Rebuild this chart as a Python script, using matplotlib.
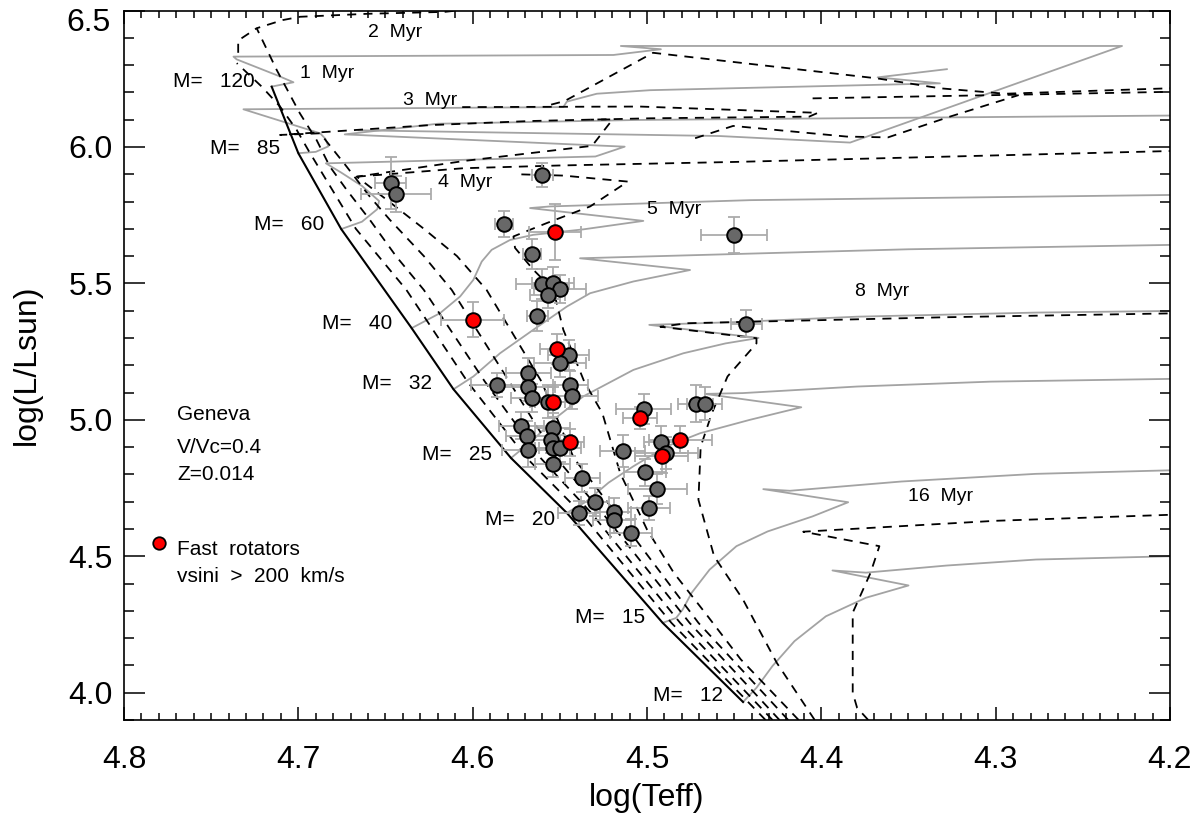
import matplotlib
matplotlib.use("Agg")
import matplotlib.pyplot as plt
from matplotlib.ticker import MultipleLocator

plt.rcParams.update({
    "font.family": ["Liberation Sans", "DejaVu Sans"],
    "axes.linewidth": 1.2,
})

# --- observed stars: logTeff, logL, errors -------------------------------
GRAY_X = [4.647, 4.644, 4.560, 4.582, 4.566, 4.560, 4.554, 4.550, 4.557, 4.563,
          4.545, 4.550, 4.568, 4.586, 4.568, 4.566, 4.557, 4.544, 4.543, 4.572,
          4.569, 4.568, 4.554, 4.555, 4.554, 4.550, 4.554, 4.537, 4.530, 4.539,
          4.519, 4.519, 4.509, 4.502, 4.514, 4.492, 4.489, 4.501, 4.494, 4.499,
          4.472, 4.467, 4.450, 4.443]
GRAY_Y = [5.869, 5.828, 5.897, 5.718, 5.608, 5.497, 5.501, 5.479, 5.458, 5.381,
          5.238, 5.208, 5.171, 5.128, 5.120, 5.080, 5.067, 5.128, 5.088, 4.978,
          4.939, 4.888, 4.970, 4.927, 4.896, 4.896, 4.839, 4.787, 4.699, 4.658,
          4.664, 4.634, 4.587, 5.039, 4.886, 4.917, 4.878, 4.807, 4.746, 4.677,
          5.059, 5.059, 5.678, 5.352]
GRAY_XERR = [0.009, 0.020, 0.006, 0.005, 0.005, 0.015, 0.012, 0.015, 0.010, 0.006,
             0.012, 0.015, 0.013, 0.015, 0.015, 0.012, 0.010, 0.010, 0.015, 0.013,
             0.012, 0.015, 0.010, 0.012, 0.010, 0.012, 0.010, 0.010, 0.008, 0.012,
             0.010, 0.012, 0.012, 0.016, 0.013, 0.010, 0.018, 0.012, 0.017, 0.012,
             0.010, 0.010, 0.019, 0.009]
GRAY_YERR = [0.095, 0.065, 0.044, 0.049, 0.055, 0.055, 0.060, 0.050, 0.050, 0.055,
             0.055, 0.050, 0.055, 0.045, 0.050, 0.050, 0.060, 0.050, 0.050, 0.050,
             0.055, 0.060, 0.055, 0.050, 0.055, 0.050, 0.050, 0.050, 0.050, 0.045,
             0.050, 0.050, 0.050, 0.055, 0.058, 0.060, 0.060, 0.050, 0.055, 0.045,
             0.067, 0.060, 0.067, 0.050]

RED_X = [4.5526, 4.600, 4.5514, 4.554, 4.544, 4.504, 4.4916, 4.481]
RED_Y = [5.689, 5.367, 5.259, 5.067, 4.917, 5.008, 4.866, 4.927]
RED_XERR = [0.015, 0.018, 0.010, 0.010, 0.008, 0.010, 0.015, 0.018]
RED_YERR = [0.103, 0.064, 0.055, 0.055, 0.050, 0.040, 0.060, 0.050]

# --- Geneva tracks (V/Vc=0.4, Z=0.014) ------------------------------------
ZAMS = [(4.7153, 6.221), (4.700, 5.977), (4.6754, 5.699), (4.635, 5.336), (4.611, 5.112),
        (4.578, 4.860), (4.546, 4.659), (4.491, 4.256), (4.4449, 3.966)]

TRACK_120 = [(4.7153, 6.221), (4.7028, 6.237), (4.712, 6.262), (4.7354, 6.321), (4.7372, 6.331),
             (4.5193, 6.337), (4.492, 6.358), (4.515, 6.370), (4.2275, 6.370), (4.3835, 6.016),
             (4.4585, 6.040), (4.6655, 6.061)]
TRACK_85 = [(4.700, 5.977), (4.690, 5.982), (4.6828, 6.002), (4.6845, 6.030), (4.6875, 6.050),
            (4.7315, 6.138), (4.548, 6.146), (4.546, 6.166), (4.5288, 6.195), (4.4982, 6.208),
            (4.332, 6.233), (4.3677, 6.255), (4.328, 6.285)]
TRACK_60 = [(4.6754, 5.699), (4.6635, 5.726), (4.6547, 5.772), (4.6537, 5.802), (4.6635, 5.857),
            (4.6754, 5.906), (4.6842, 5.940), (4.5296, 5.965), (4.5128, 6.001), (4.6734, 6.046),
            (4.620, 6.085), (4.504, 6.099), (4.2, 6.115)]
TRACK_40 = [(4.635, 5.336), (4.6187, 5.391), (4.6072, 5.452), (4.5996, 5.513), (4.5948, 5.580),
            (4.5891, 5.623), (4.5786, 5.659), (4.5652, 5.678), (4.5365, 5.698), (4.5021, 5.729),
            (4.5671, 5.776), (4.5556, 5.782), (4.4409, 5.805), (4.2, 5.824)]
TRACK_32 = [(4.611, 5.112), (4.5996, 5.159), (4.5843, 5.244), (4.5652, 5.330), (4.546, 5.415),
            (4.5326, 5.464), (4.5078, 5.507), (4.4753, 5.549), (4.5384, 5.592), (4.504, 5.598),
            (4.35, 5.625), (4.2, 5.641)]
TRACK_25 = [(4.578, 4.860), (4.5652, 4.927), (4.5537, 5.0), (4.5365, 5.086), (4.5078, 5.183),
            (4.4791, 5.244), (4.455, 5.280), (4.436, 5.300), (4.4987, 5.348), (4.45, 5.358),
            (4.3795, 5.378), (4.2769, 5.393), (4.2, 5.399)]
TRACK_20 = [(4.546, 4.659), (4.535, 4.700), (4.522, 4.770), (4.508, 4.829), (4.489, 4.902),
            (4.4695, 4.951), (4.441, 5.0), (4.4115, 5.046), (4.4667, 5.095), (4.445, 5.098),
            (4.3795, 5.122), (4.3026, 5.140), (4.2, 5.150)]
TRACK_15 = [(4.491, 4.256), (4.4833, 4.274), (4.4795, 4.305), (4.4744, 4.366), (4.4641, 4.451),
            (4.4487, 4.537), (4.4308, 4.591), (4.4051, 4.646), (4.3846, 4.698), (4.4333, 4.746),
            (4.418, 4.740), (4.354, 4.774), (4.277, 4.802), (4.2, 4.815)]
TRACK_12 = [(4.4449, 3.966), (4.4372, 4.018), (4.428, 4.098), (4.4154, 4.189), (4.3974, 4.280),
            (4.3744, 4.348), (4.350, 4.393), (4.3936, 4.448), (4.3744, 4.440), (4.3282, 4.466),
            (4.2769, 4.488), (4.2, 4.500)]
TRACKS = [TRACK_120, TRACK_85, TRACK_60, TRACK_40, TRACK_32, TRACK_25, TRACK_20, TRACK_15, TRACK_12]

MASS_LABELS = ["M=   120", "M=   85", "M=   60", "M=   40", "M=   32", "M=   25", "M=   20",
               "M=   15", "M=   12"]
MASS_LABEL_X = [4.725, 4.7105, 4.6852, 4.6464, 4.6235, 4.589, 4.5527, 4.5013, 4.4564]
MASS_LABEL_Y = [6.238, 5.996, 5.717, 5.354, 5.134, 4.872, 4.634, 4.274, 3.988]

# --- isochrones (each a list of polyline pieces) ---------------------------
ISO_1 = [[(4.432, 3.90), (4.486, 4.256), (4.538, 4.659), (4.569, 4.86), (4.603, 5.14),
          (4.638, 5.476), (4.667, 5.70), (4.694, 5.985), (4.7010, 6.063), (4.7105, 6.148),
          (4.7210, 6.221), (4.7353, 6.307)]]
ISO_2 = [[(4.428, 3.90), (4.481, 4.256), (4.532, 4.659), (4.561, 4.86), (4.593, 5.14),
          (4.628, 5.476), (4.644, 5.60), (4.659, 5.733), (4.6723, 5.843), (4.6819, 5.928),
          (4.6895, 6.025), (4.6991, 6.123), (4.7124, 6.282), (4.7239, 6.435), (4.7089, 6.465),
          (4.699, 6.477), (4.66, 6.488), (4.616, 6.495), (4.58, 6.52)],
         [(4.7345, 6.345), (4.7345, 6.39), (4.7239, 6.435)],
         [(4.555, 6.155), (4.5473, 6.168), (4.4965, 6.345), (4.3677, 6.251), (4.332, 6.215),
          (4.2947, 6.195), (4.2, 6.215)]]
ISO_3 = [[(4.424, 3.90), (4.4756, 4.256), (4.5256, 4.659), (4.552, 4.86), (4.579, 5.14),
          (4.612, 5.476), (4.628, 5.60), (4.6475, 5.733), (4.659, 5.818), (4.6723, 5.928),
          (4.6875, 6.050), (4.7105, 6.044), (4.6244, 6.080), (4.567, 6.095), (4.4982, 6.105),
          (4.407, 6.111), (4.402, 6.125), (4.504, 6.148), (4.606, 6.146)],
         [(4.405, 6.178), (4.30, 6.190), (4.2, 6.202)]]
ISO_4 = [[(4.419, 3.90), (4.4705, 4.256), (4.518, 4.659), (4.542, 4.86), (4.5605, 5.14),
          (4.592, 5.476), (4.609, 5.60), (4.628, 5.70), (4.648, 5.80), (4.6665, 5.891),
          (4.6044, 5.949), (4.5315, 6.004), (4.5197, 6.101), (4.5326, 6.100)],
         [(4.6665, 5.891), (4.6053, 5.922), (4.5506, 5.932), (4.45, 5.945), (4.2, 5.985)],
         [(4.4724, 6.032), (4.4506, 6.077), (4.3855, 6.038), (4.3618, 6.035), (4.3263, 6.111),
          (4.2868, 6.190)]]
ISO_5 = [[(4.413, 3.90), (4.4462, 4.122), (4.4667, 4.293), (4.4846, 4.439), (4.5, 4.598),
          (4.5154, 4.805), (4.5256, 5.024), (4.536, 5.14), (4.548, 5.33), (4.5537, 5.476),
          (4.5652, 5.55), (4.5757, 5.63), (4.5766, 5.672), (4.5575, 5.721), (4.5326, 5.782),
          (4.511, 5.873), (4.5479, 5.895), (4.575, 5.900)]]
ISO_8 = [[(4.4038, 3.90), (4.4256, 4.110), (4.4449, 4.341), (4.4615, 4.500), (4.4705, 4.707),
          (4.4692, 4.902), (4.4628, 5.024), (4.4538, 5.159), (4.4372, 5.280), (4.4372, 5.299),
          (4.4923, 5.341), (4.4769, 5.354), (4.3282, 5.376), (4.2, 5.390)]]
ISO_16 = [[(4.3731, 3.90), (4.3795, 3.945), (4.382, 4.0), (4.382, 4.293), (4.3718, 4.439),
           (4.3667, 4.537), (4.4104, 4.590), (4.30, 4.630), (4.2, 4.652)]]
ISOCHRONES = [ISO_1, ISO_2, ISO_3, ISO_4, ISO_5, ISO_8, ISO_16]

AGE_LABELS = ["1  Myr", "2  Myr", "3  Myr", "4  Myr", "5  Myr", "8  Myr", "16  Myr"]
AGE_LABEL_X = [4.699, 4.660, 4.640, 4.620, 4.500, 4.3808, 4.350]
AGE_LABEL_Y = [6.270, 6.419, 6.169, 5.869, 5.769, 5.470, 4.7195]

TRACK_GRAY = "#a3a3a3"
ERR_GRAY = "#ababab"


def _xy(pts):
    return [p[0] for p in pts], [p[1] for p in pts]


fig = plt.figure(figsize=(12, 8.26), dpi=100)
ax = fig.add_axes([124 / 1200, 1 - 720 / 826, 1046 / 1200, 709.5 / 826])

for tr in TRACKS:
    ax.plot(*_xy(tr), color=TRACK_GRAY, lw=1.3, zorder=1)
for iso in ISOCHRONES:
    for seg in iso:
        ax.plot(*_xy(seg), color="k", lw=1.3, ls=(0, (5, 4)), zorder=2)
ax.plot(*_xy(ZAMS), color="k", lw=1.5, zorder=3)

for lab, x, y in zip(MASS_LABELS, MASS_LABEL_X, MASS_LABEL_Y):
    ax.text(x, y, lab, ha="right", va="center", fontsize=15)
for lab, x, y in zip(AGE_LABELS, AGE_LABEL_X, AGE_LABEL_Y):
    ax.text(x, y, lab, ha="left", va="center", fontsize=14)

ax.errorbar(GRAY_X, GRAY_Y, xerr=GRAY_XERR, yerr=GRAY_YERR, fmt="none",
            ecolor=ERR_GRAY, elinewidth=1.3, capsize=4.5, capthick=1.3, zorder=4)
ax.errorbar(RED_X, RED_Y, xerr=RED_XERR, yerr=RED_YERR, fmt="none",
            ecolor=ERR_GRAY, elinewidth=1.3, capsize=4.5, capthick=1.3, zorder=4)
ax.plot(GRAY_X, GRAY_Y, "o", ms=10.5, mfc="#686868", mec="k", mew=1.4, zorder=5)
ax.plot(RED_X, RED_Y, "o", ms=10.5, mfc="#ff0000", mec="k", mew=1.4, zorder=6)

# legend / model notes
ax.plot([4.780], [4.549], "o", ms=9, mfc="#ff0000", mec="k", mew=1.3, zorder=6)
ax.text(4.7696, 4.524, "Fast  rotators", ha="left", va="center", fontsize=15)
ax.text(4.7696, 4.425, "vsini  >  200  km/s", ha="left", va="center", fontsize=15)
ax.text(4.7696, 5.018, "Geneva", ha="left", va="center", fontsize=15)
ax.text(4.7696, 4.899, "V/Vc=0.4", ha="left", va="center", fontsize=15)
ax.text(4.7696, 4.801, "Z=0.014", ha="left", va="center", fontsize=15)

ax.set_xlim(4.8, 4.2)
ax.set_ylim(3.9, 6.5)
ax.set_xticks([4.8, 4.7, 4.6, 4.5, 4.4, 4.3, 4.2])
ax.set_xticklabels(["4.8", "4.7", "4.6", "4.5", "4.4", "4.3", "4.2"])
ax.set_yticks([4.0, 4.5, 5.0, 5.5, 6.0, 6.5])
# the top label sits lower than its tick, as in the original plot
ax.set_yticklabels(["4.0", "4.5", "5.0", "5.5", "6.0", ""])
fig.text(111 / 1200, 1 - 23 / 826, "6.5", ha="right", va="center", fontsize=23)
ax.xaxis.set_minor_locator(MultipleLocator(0.01))
ax.yaxis.set_minor_locator(MultipleLocator(0.1))
ax.tick_params(axis="both", which="both", direction="in", top=True, right=True, width=1.1)
ax.tick_params(axis="x", which="major", length=9.5, pad=18, labelsize=23)
ax.tick_params(axis="x", which="minor", length=5)
ax.tick_params(axis="y", which="major", length=15, pad=8, labelsize=23)
ax.tick_params(axis="y", which="minor", length=7.5)

fig.text(647 / 1200, 1 - 798 / 826, "log(Teff)", ha="center", va="center", fontsize=23)
fig.text(27 / 1200, 1 - 365 / 826, "log(L/Lsun)", ha="center", va="center",
         rotation=90, fontsize=23)

fig.savefig("out.png", dpi=100)
